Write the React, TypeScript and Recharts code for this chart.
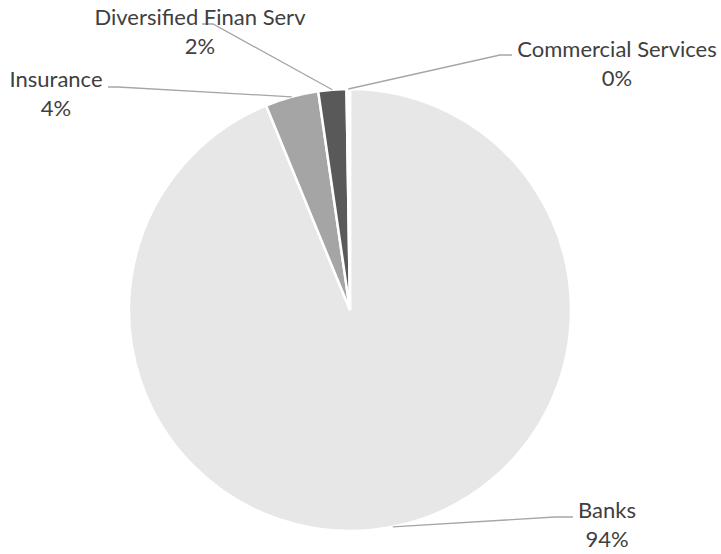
import React from 'react';
import { PieChart, Pie, Cell } from 'recharts';

const categories = ['Banks', 'Insurance', 'Diversified Finan Serv', 'Commercial Services'];
const values = [93.8, 3.9, 2.05, 0.25];
const percentLabels = ['94%', '4%', '2%', '0%'];

const sliceColors = ['#e7e7e7', '#a5a5a5', '#595959', '#ffffff'];

// label layout: offsets relative to pie center (text center/baseline, elbow, end)
const labelLayout = [
  { tx: 257, ty: 208, ex: 205, ey: 207, lx: 223, ly: 207 },
  { tx: -294, ty: -223, ex: -232, ey: -223, lx: -242, ly: -223 },
  { tx: -150, ty: -285, ex: -137, ey: -286, lx: -148, ly: -286 },
  { tx: 267, ty: -253, ex: 150, ey: -255, lx: 162, ly: -255 },
];

const data = categories.map((name, i) => ({ name, value: values[i], pct: percentLabels[i] }));

const RADIAN = Math.PI / 180;
const FONT = 'Lato, "Open Sans", sans-serif';

const renderLabel = (props: any) => {
  const { cx, cy, midAngle, outerRadius, index } = props;
  const L = labelLayout[index];
  const sx = cx + outerRadius * Math.cos(-midAngle * RADIAN);
  const sy = cy + outerRadius * Math.sin(-midAngle * RADIAN);
  return (
    <g key={`lab-${index}`}>
      <polyline
        points={`${sx},${sy} ${cx + L.ex},${cy + L.ey} ${cx + L.lx},${cy + L.ly}`}
        fill="none"
        stroke="#a6a6a6"
        strokeWidth={1.3}
      />
      <text x={cx + L.tx} y={cy + L.ty} textAnchor="middle" fill="#404040" fontSize={22} fontFamily={FONT}>
        {data[index].name}
      </text>
      <text x={cx + L.tx} y={cy + L.ty + 29} textAnchor="middle" fill="#404040" fontSize={22} fontFamily={FONT}>
        {data[index].pct}
      </text>
    </g>
  );
};

export default function App() {
  return (
    <div style={{ position: 'absolute', left: 0, top: 0, width: 721, height: 554, background: '#fff' }}>
      <PieChart width={721} height={554} margin={{ top: 0, right: 0, bottom: 0, left: 0 }}>
        <Pie
          data={data}
          dataKey="value"
          nameKey="name"
          cx={350}
          cy={310}
          outerRadius={221}
          innerRadius={0}
          startAngle={90}
          endAngle={-270}
          stroke="#ffffff"
          strokeWidth={2.5}
          label={renderLabel}
          labelLine={false}
          isAnimationActive={false}
        >
          {data.map((d, i) => (
            <Cell key={d.name} fill={sliceColors[i]} />
          ))}
        </Pie>
      </PieChart>
    </div>
  );
}
